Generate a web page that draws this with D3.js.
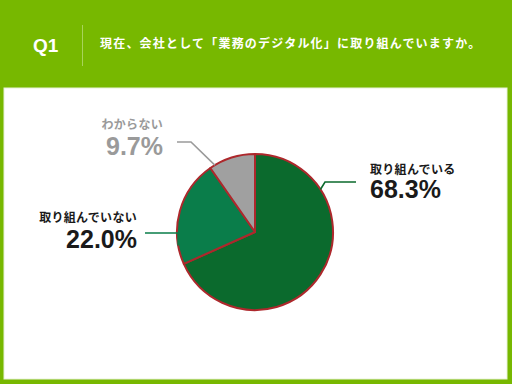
<!DOCTYPE html>
<html>
<head>
<meta charset="utf-8">
<script src="https://cdn.jsdelivr.net/npm/d3@7"></script>
<style>
  html, body { margin: 0; padding: 0; background: #77b800; }
  svg { display: block; }
</style>
</head>
<body>
<script>
// data
var categories = ["取り組んでいる", "取り組んでいない", "わからない"];
var values = [68.3, 22.0, 9.7];
var valueLabels = ["68.3%", "22.0%", "9.7%"];
var question = "Q1";
var title = "現在、会社として「業務のデジタル化」に取り組んでいますか。";

var width = 512, height = 384;
var cx = 255, cy = 232, radius = 78;
var colors = ["#0b6a2d", "#0a7d4a", "#a0a0a0"];
var textColors = ["#1a1a1a", "#1a1a1a", "#9a9a9a"];

// label placement: where the text sits, where the leader touches the pie
var labelLayout = [
  { x: 370, y1: 174, y2: 198, anchor: "start", lineX: 356, lineY: 182, elbowX: 325, touchDeg: 57 },
  { x: 137, y1: 222, y2: 248, anchor: "end", lineX: 145, lineY: 233, elbowX: 178, touchDeg: 260 },
  { x: 163, y1: 129, y2: 155, anchor: "end", lineX: 177, lineY: 142, elbowX: 191, touchDeg: 329 }
];

var svg = d3.select("body").append("svg")
  .attr("width", width)
  .attr("height", height);

svg.append("rect")
  .attr("width", width).attr("height", height)
  .attr("fill", "#77b800");

// header
svg.append("text")
  .attr("x", 33).attr("y", 52)
  .attr("fill", "#fff")
  .attr("font-family", "Liberation Sans, Arial, sans-serif")
  .attr("font-weight", "bold")
  .attr("font-size", 19)
  .text(question);

svg.append("line")
  .attr("x1", 82.5).attr("x2", 82.5)
  .attr("y1", 25).attr("y2", 66)
  .attr("stroke", "#a8d45a")
  .attr("stroke-width", 1);

svg.append("text")
  .attr("x", 100).attr("y", 48)
  .attr("fill", "#fff")
  .attr("font-family", "Noto Sans CJK JP, sans-serif")
  .attr("font-weight", "bold")
  .attr("font-size", 12)
  .attr("letter-spacing", 1.2)
  .text(title);

// white panel
svg.append("rect")
  .attr("x", 4).attr("y", 88)
  .attr("width", 503).attr("height", 291)
  .attr("fill", "#fff")
  .attr("stroke", "#e8f2d8")
  .attr("stroke-width", 1);

// pie
var pie = d3.pie().sort(null).value(function (d) { return d; });
var arc = d3.arc().innerRadius(0).outerRadius(radius);
var arcs = pie(values);

var g = svg.append("g").attr("transform", "translate(" + cx + "," + cy + ")");

g.selectAll("path.slice")
  .data(arcs)
  .join("path")
  .attr("class", "slice")
  .attr("d", arc)
  .attr("fill", function (d, i) { return colors[i]; })
  .attr("stroke", "#ad282c")
  .attr("stroke-width", 2)
  .attr("stroke-linejoin", "round");

// leader lines
labelLayout.forEach(function (L, i) {
  var a = L.touchDeg * Math.PI / 180;
  var px = cx + Math.sin(a) * radius;
  var py = cy - Math.cos(a) * radius;
  svg.append("polyline")
    .attr("points", [[L.lineX, L.lineY], [L.elbowX, L.lineY], [px, py]].map(function (p) { return p.join(","); }).join(" "))
    .attr("fill", "none")
    .attr("stroke", colors[i] === "#a0a0a0" ? "#9a9a9a" : colors[i])
    .attr("stroke-width", 1.6);
});

// labels
var labels = svg.selectAll("g.label")
  .data(categories)
  .join("g")
  .attr("class", "label");

labels.append("text")
  .attr("x", function (d, i) { return labelLayout[i].x; })
  .attr("y", function (d, i) { return labelLayout[i].y1; })
  .attr("text-anchor", function (d, i) { return labelLayout[i].anchor; })
  .attr("fill", function (d, i) { return textColors[i]; })
  .attr("font-family", "Noto Sans CJK JP, sans-serif")
  .attr("font-weight", "bold")
  .attr("font-size", 12)
  .attr("letter-spacing", 0.3)
  .text(function (d) { return d; });

labels.append("text")
  .attr("x", function (d, i) { return labelLayout[i].x; })
  .attr("y", function (d, i) { return labelLayout[i].y2; })
  .attr("text-anchor", function (d, i) { return labelLayout[i].anchor; })
  .attr("fill", function (d, i) { return textColors[i]; })
  .attr("font-family", "Liberation Sans, Arial, sans-serif")
  .attr("font-weight", "bold")
  .attr("font-size", 25)
  .text(function (d, i) { return valueLabels[i]; });
</script>
</body>
</html>
